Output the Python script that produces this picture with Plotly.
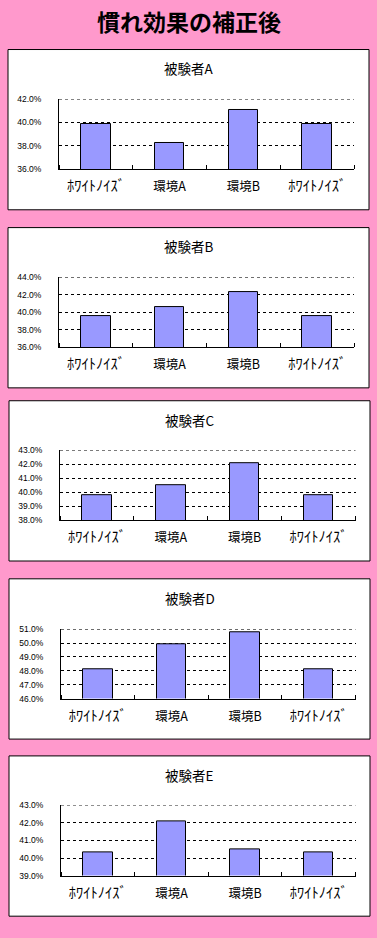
import plotly.graph_objects as go

# ---- data ----
categories = ["ﾎﾜｲﾄﾉｲｽﾞ", "環境A", "環境B", "ﾎﾜｲﾄﾉｲｽﾞ"]
subjects = ["被験者A", "被験者B", "被験者C", "被験者D", "被験者E"]
values_A = [39.9, 38.2, 41.1, 39.9]
values_B = [39.6, 40.6, 42.3, 39.6]
values_C = [39.8, 40.5, 42.1, 39.8]
values_D = [48.1, 49.9, 50.8, 48.1]
values_E = [40.35, 42.1, 40.5, 40.35]
y_min = [36, 36, 38, 46, 39]
y_max = [42, 44, 43, 51, 43]
y_step = [2, 2, 1, 1, 1]
page_title = "慣れ効果の補正後"

all_values = [values_A, values_B, values_C, values_D, values_E]

W, H = 377, 938
PINK = "#FF99CC"
BAR = "#9999FF"
FONT = "Noto Sans CJK JP"
DASH = "3px,3px"

# layout geometry in pixels
plot_areas = [  # x0, x1, ytop, ybottom
    (59, 354, 95, 166),
    (59, 354, 275, 346),
    (60, 355.5, 450, 521),
    (61, 355.5, 631, 701),
    (61, 355.5, 809, 880),
]
panels = [  # x0, y0, x1, y1
    (8, 45, 369, 207),
    (8, 225, 369, 387),
    (9, 400, 370, 562),
    (9, 580, 370, 742),
    (9, 759, 370, 921),
]
title_y = [64, 244, 419, 599, 778]


def px(x):
    return x / W


def py(y):
    return 1 - y / H


def fmt_label(s):
    # half-width katakana render narrow; enlarge to match the original width
    if any('\uff61' <= c <= '\uff9f' for c in s):
        return '<span style="font-size:14.5px">' + s + '</span>'
    return s


fig = go.Figure()
shapes = []
annotations = []
xs = list(range(len(categories)))

for i, vals in enumerate(all_values):
    n = "" if i == 0 else str(i + 1)
    fig.add_trace(go.Bar(
        x=xs, y=vals, xaxis="x" + n, yaxis="y" + n,
        width=0.4, marker=dict(color=BAR, line=dict(color="black", width=1)),
        showlegend=False, hoverinfo="skip",
    ))
    x0, x1, yt, yb = plot_areas[i]
    fig.layout["xaxis" + n] = dict(
        domain=[px(x0), px(x1)], anchor="y" + n,
        range=[-0.5, len(categories) - 0.5],
        tickvals=xs, ticktext=[fmt_label(c) for c in categories], ticks="",
        showline=True, linecolor="black", linewidth=1,
        showgrid=False, zeroline=False, fixedrange=True,
        tickfont=dict(family=FONT, size=12.5, color="black"),
        ticklabelstandoff=6,
        minor=dict(tickvals=[k - 0.5 for k in range(len(categories) + 1)],
                   ticks="inside", ticklen=4, tickcolor="black", tickwidth=1,
                   showgrid=False),
    )
    fig.layout["yaxis" + n] = dict(
        domain=[py(yb), py(yt)], anchor="x" + n,
        range=[y_min[i], y_max[i]], dtick=y_step[i], tick0=y_min[i],
        tickformat=".1f", ticksuffix="%", ticks="",
        showline=True, linecolor="black", linewidth=1,
        showgrid=True, gridcolor="black", gridwidth=1, griddash=DASH,
        zeroline=False, fixedrange=True,
        tickfont=dict(family="Liberation Sans", size=8.5, color="black"),
        ticklabelstandoff=15,
    )
    p = panels[i]
    shapes.append(dict(type="rect", xref="paper", yref="paper",
                       x0=px(p[0]), x1=px(p[2]), y0=py(p[3]), y1=py(p[1]),
                       fillcolor="white", line=dict(color="black", width=1),
                       layer="below"))
    # top gridline (plotly drops the gridline lying on the range edge)
    shapes.append(dict(type="line", xref="x" + n + " domain", yref="y" + n,
                       x0=0, x1=1, y0=y_max[i], y1=y_max[i],
                       line=dict(color="black", width=1, dash=DASH)))
    annotations.append(dict(text=subjects[i], xref="paper", yref="paper",
                            x=px((p[0] + p[2]) / 2), y=py(title_y[i]),
                            xanchor="center", yanchor="middle", showarrow=False,
                            font=dict(family=FONT, size=13.5, color="black")))

annotations.append(dict(text="<b>" + page_title + "</b>", xref="paper", yref="paper",
                        x=0.5, y=py(16), xanchor="center", yanchor="middle",
                        showarrow=False,
                        font=dict(family=FONT, size=23, color="black")))

fig.update_layout(
    width=W, height=H, margin=dict(l=0, r=0, t=0, b=0),
    paper_bgcolor=PINK, plot_bgcolor="rgba(0,0,0,0)",
    shapes=shapes, annotations=annotations, bargap=0,
)

fig.write_html("out.html", config={"displayModeBar": False})
